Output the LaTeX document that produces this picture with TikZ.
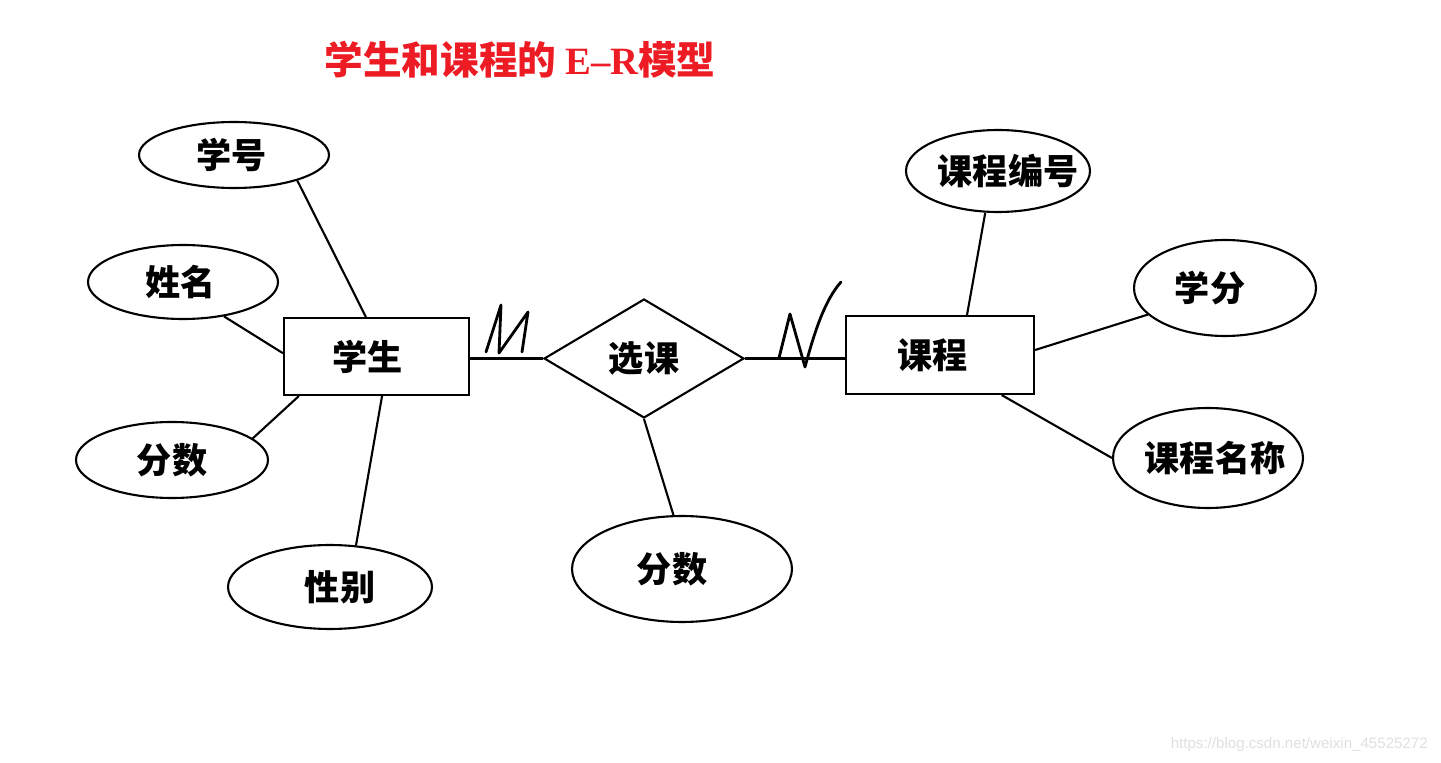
\documentclass[tikz,border=0pt]{standalone}
\usepackage{fontspec}
\usetikzlibrary{shapes.geometric}
\newfontfamily\cjk{Noto Sans CJK SC}
\newfontfamily\latinserif{Liberation Serif}
\setsansfont{Liberation Sans}
\definecolor{titlered}{RGB}{237,28,36}
\newcommand{\shifted}[2]{\makebox[0pt]{\hspace*{#1}#2}}
\begin{document}
\begin{tikzpicture}[x=0.02cm,y=-0.02cm,
  lw/.style={line width=1.2pt},
  attr/.style={draw,lw,ellipse,inner sep=0pt,font=\cjk\bfseries\fontsize{20}{24}\selectfont},
  ent/.style={draw,lw,rectangle,inner sep=0pt,font=\cjk\bfseries\fontsize{20}{24}\selectfont},
  rel/.style={draw,lw,diamond,inner sep=0pt,aspect=1.7,font=\cjk\bfseries\fontsize{20}{24}\selectfont},
  conn/.style={lw},
  handmark/.style={line width=1.6pt,line join=round,line cap=round}]
\useasboundingbox (0,0) rectangle (1441,763);
\fill[white] (0,0) rectangle (1441,763);

% title
\node[text=titlered,font=\cjk\bfseries\fontsize{22}{26}\selectfont] (title) at (520,60)
  {学生和课程的 {\latinserif\bfseries E–R}模型};

% entities
\node[ent,minimum width=3.7cm,minimum height=1.54cm] (xs) at (376.5,356.5) {\shifted{-0.35cm}{学生}};
\node[ent,minimum width=3.76cm,minimum height=1.56cm] (kc) at (940,355) {\shifted{-0.3cm}{课程}};

% relationship
\node[rel,minimum width=4.0cm,minimum height=2.38cm] (xk) at (644,358.5) {\shifted{0cm}{选课}};

% attributes of student
\node[attr,minimum width=3.8cm,minimum height=1.32cm] (xh) at (234,155) {\shifted{-0.1cm}{学号}};
\node[attr,minimum width=3.8cm,minimum height=1.48cm] (xm) at (183,282) {\shifted{-0.1cm}{姓名}};
\node[attr,minimum width=3.84cm,minimum height=1.52cm] (fs1) at (172,460) {\shifted{0cm}{分数}};
\node[attr,minimum width=4.08cm,minimum height=1.68cm] (xb) at (330,587) {\shifted{0.4cm}{性别}};

% attribute of relationship
\node[attr,minimum width=4.4cm,minimum height=2.12cm] (fs2) at (682,569) {\shifted{-0.4cm}{分数}};

% attributes of course
\node[attr,minimum width=3.68cm,minimum height=1.64cm] (kb) at (998,171) {\shifted{0.4cm}{课程编号}};
\node[attr,minimum width=3.64cm,minimum height=1.92cm] (xf) at (1225,288) {\shifted{-0.6cm}{学分}};
\node[attr,minimum width=3.8cm,minimum height=2.0cm] (km) at (1208,458) {\shifted{0.28cm}{课程名称}};

% connectors
\draw[conn] (xh.-22) -- (xs.105);
\draw[conn] (xm.-40) -- (xs.178);
\draw[conn] (fs1.15) -- (xs.207);
\draw[conn] (xb.58) -- (xs.-82);
\draw[conn] (xk.west -| xs.east) -- (xk.west);
\draw[conn] (xk.east) -- (xk.east -| kc.west);
\draw[conn] (xk.south) -- (fs2.99);
\draw[conn] (kb.-107) -- (kc.56);
\draw[conn] (xf.-161) -- (kc.3);
\draw[conn] (km.180) -- (kc.-33.5);

% hand-drawn cardinality marks
\draw[handmark] (486,352) -- (501,305) -- (499,353) -- (528,312) -- (522,352);
\draw[handmark] (779,358) -- (790,314) -- (805,367) .. controls (815,330) and (825,300) .. (841,282);

% watermark
\node[text=black!12,font=\sffamily\fontsize{8.6}{10}\selectfont,anchor=east] (wm) at (1434,745)
  {https://blog.csdn.net/weixin\_45525272};
\end{tikzpicture}
\end{document}
